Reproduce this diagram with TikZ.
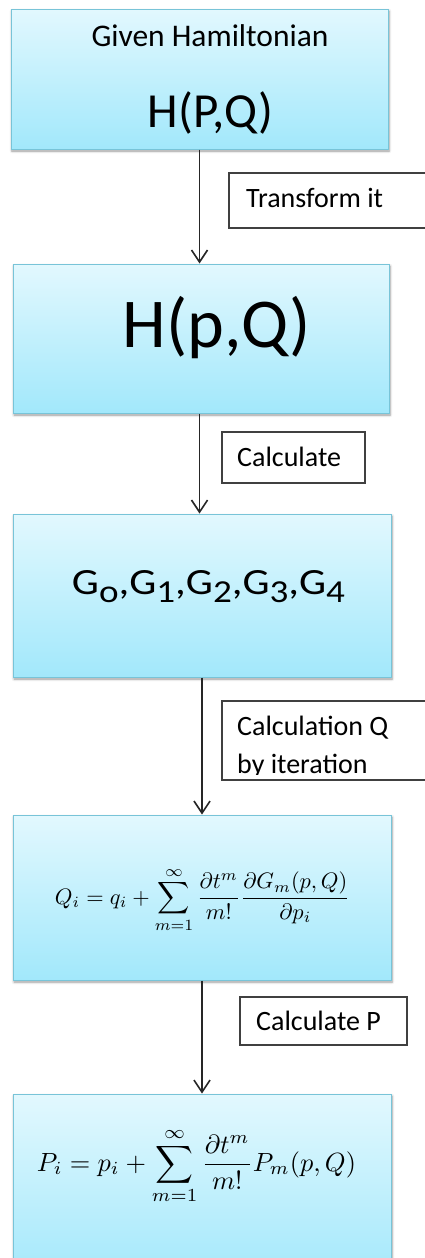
\documentclass[tikz,border=0pt]{standalone}
\usepackage{fontspec}
\setmainfont{Carlito}
\usetikzlibrary{arrows.meta,shadows.blur}
\newcommand\gsb[1]{\raisebox{-8pt}{\fontsize{32}{36}\selectfont #1}}
\begin{document}
\begin{tikzpicture}[x=1pt,y=-1pt,
  bluebox/.style={draw=boxEdge, line width=1pt, top color=blueTop, bottom color=blueBot,
    minimum width=#1, inner sep=0pt,
    blur shadow={shadow xshift=1pt, shadow yshift=-2pt, shadow blur steps=6, shadow blur radius=2.5pt, shadow opacity=40}},
  lblbox/.style={draw=black!75, line width=1.1pt, fill=white, inner sep=0pt},
  lbltext/.style={anchor=base west, inner sep=0pt, font=\fontsize{28}{34}\selectfont},
  flow/.style={-{Straight Barb[length=12pt,width=16pt,line width=1.6pt]}, line width=1.7pt, black!85}]
\definecolor{blueTop}{HTML}{E2F8FE}
\definecolor{blueBot}{HTML}{A2E8FB}
\definecolor{boxEdge}{HTML}{78C4D8}
\useasboundingbox (0,0) rectangle (425,1258);
\clip (0,0) rectangle (425,1258);
% main boxes
\node[bluebox=377pt, minimum height=140pt] (b1) at (199.5,79) {};
\node[bluebox=376pt, minimum height=149pt] (b2) at (201,338.5) {};
\node[bluebox=378pt, minimum height=163pt] (b3) at (202,595.5) {};
\node[bluebox=378pt, minimum height=165pt] (b4) at (202,897.5) {};
\node[bluebox=378pt, minimum height=190pt] (b5) at (202,1189) {};
% texts in boxes
\node[anchor=base, inner sep=0pt, font=\fontsize{31.5}{36}\selectfont] (t1a) at (210,46) {Given Hamiltonian};
\node[anchor=base, inner sep=0pt, font=\fontsize{49}{54}\selectfont] (t1b) at (210.5,127) {H(P,Q)};
\node[anchor=base, inner sep=0pt, font=\fontsize{70}{76}\selectfont] (t2) at (217,347) {H(p,Q)};
\node[anchor=base, inner sep=0pt, font=\fontsize{37}{42}\selectfont] (t3) at (208.5,594)
  {\resizebox{273pt}{\height}{G\gsb{o},G\gsb{1},G\gsb{2},G\gsb{3},G\gsb{4}}};
\node[anchor=base, inner sep=0pt] (t4) at (202.5,904)
  {\resizebox{295pt}{!}{$\displaystyle Q_i = q_i + \sum_{m=1}^{\infty}\frac{\partial t^m}{m!}\frac{\partial G_m(p,Q)}{\partial p_i}$}};
\node[anchor=base, inner sep=0pt] (t5) at (196.5,1171)
  {\resizebox{319pt}{!}{$\displaystyle P_i = p_i + \sum_{m=1}^{\infty}\frac{\partial t^m}{m!}P_m(p,Q)$}};
% arrows
\draw[flow] (b1.south) -- (b1.south |- b2.north);
\draw[flow] (b2.south -| b1.south) -- (b1.south |- b3.north);
\draw[flow] (b3.south) -- (b3.south |- b4.north);
\draw[flow] (b4.south -| b3.south) -- (b3.south |- b5.north);
% label boxes
\node[lblbox, minimum width=211pt, minimum height=55pt] (l1) at (334.5,200.5) {};
\node[lbltext] (l1t) at (246,207) {Transform it};
\node[lblbox, minimum width=143pt, minimum height=51pt] (l2) at (293.5,457.5) {};
\node[lbltext] (l2t) at (237,466) {Calculate};
\node[lblbox, minimum width=218pt, minimum height=79pt] (l3) at (331,740.5) {};
\node[lbltext] (l3t) at (237,735) {Calculation Q};
\begin{scope}
\clip (222,701) rectangle (440,774.5);
\node[lbltext] (l3u) at (237,773) {by iteration};
\end{scope}
\node[lblbox, minimum width=167pt, minimum height=48pt] (l4) at (323.5,1021) {};
\node[lbltext] (l4t) at (256,1030) {Calculate P};
\end{tikzpicture}
\end{document}
